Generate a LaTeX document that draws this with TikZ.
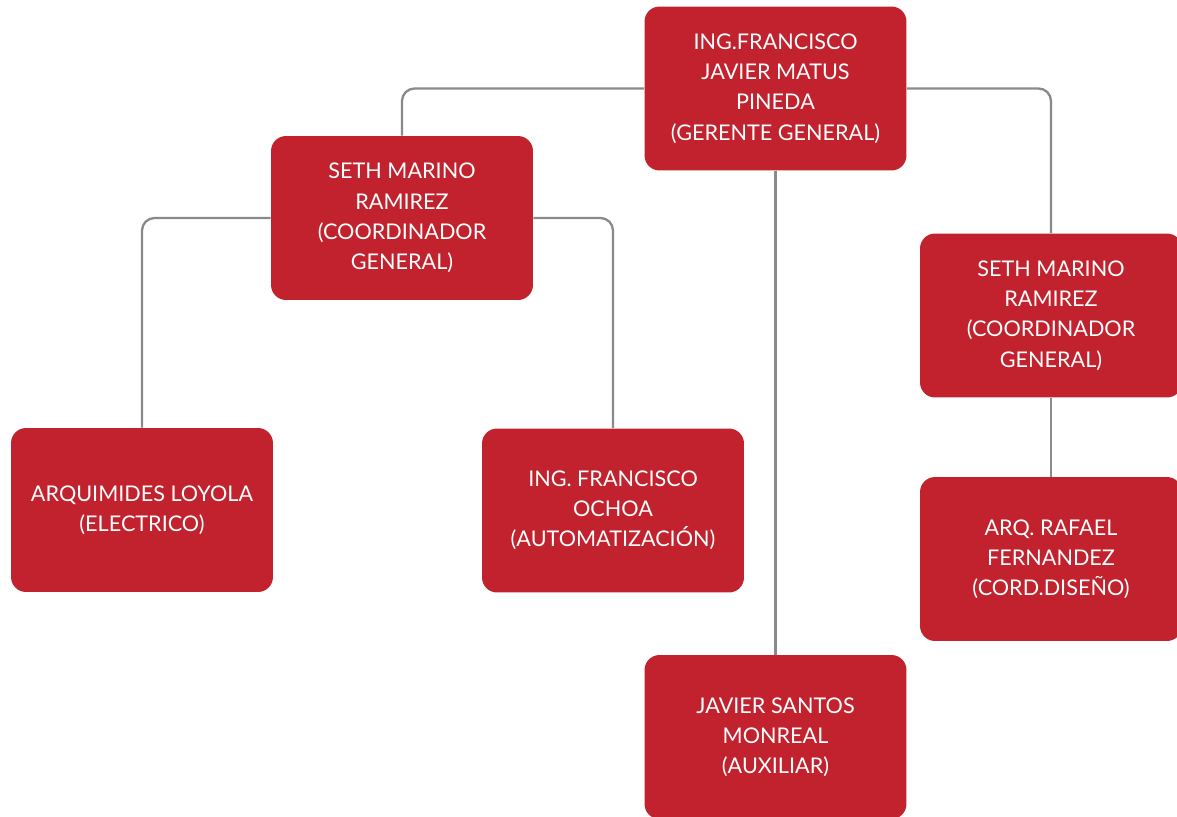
\documentclass[tikz,border=0pt]{standalone}
\usepackage{fontspec}
\setmainfont{Lato}
\usetikzlibrary{positioning}
\definecolor{boxred}{RGB}{193,34,45}
\definecolor{linegray}{RGB}{138,138,138}
\tikzset{
  orgbox/.style={rectangle,fill=boxred,rounded corners=0.3cm,
    minimum width=5.24cm,minimum height=3.28cm,inner sep=0pt,
    align=center,text=white,font=\fontsize{12.3}{17.2}\selectfont},
  orglink/.style={draw=linegray,line width=1.3pt,rounded corners=0.25cm},
}
\newcommand{\obox}[3]{\node[orgbox] (#1) at (#2) {#3};}
\begin{document}
\begin{tikzpicture}[x=0.02cm,y=-0.02cm]
  \useasboundingbox (0,0) rectangle (1177,816);
  % boxes
  \obox{gerente}{775.5,88.5}{ING.FRANCISCO\\JAVIER MATUS\\PINEDA\\(GERENTE GENERAL)}
  \obox{coordA}{402,218}{SETH MARINO\\RAMIREZ\\(COORDINADOR\\GENERAL)}
  \obox{coordB}{1051,315.5}{SETH MARINO\\RAMIREZ\\(COORDINADOR\\GENERAL)}
  \obox{electrico}{142,510}{ARQUIMIDES LOYOLA\\(ELECTRICO)}
  \obox{automat}{613,510.5}{ING. FRANCISCO\\OCHOA\\(AUTOMATIZACIÓN)}
  \obox{diseno}{1051,559}{ARQ. RAFAEL\\FERNANDEZ\\(CORD.DISEÑO)}
  \obox{auxiliar}{775.5,737}{JAVIER SANTOS\\MONREAL\\(AUXILIAR)}
  % links
  \draw[orglink] (gerente.west) -| (coordA.north);
  \draw[orglink] (gerente.east) -| (coordB.north);
  \draw[orglink] (gerente.south) -- (auxiliar.north);
  \draw[orglink] (coordA.west) -| (electrico.north);
  \draw[orglink] (coordA.east) -| (automat.north);
  \draw[orglink] (coordB.south) -- (diseno.north);
\end{tikzpicture}
\end{document}
